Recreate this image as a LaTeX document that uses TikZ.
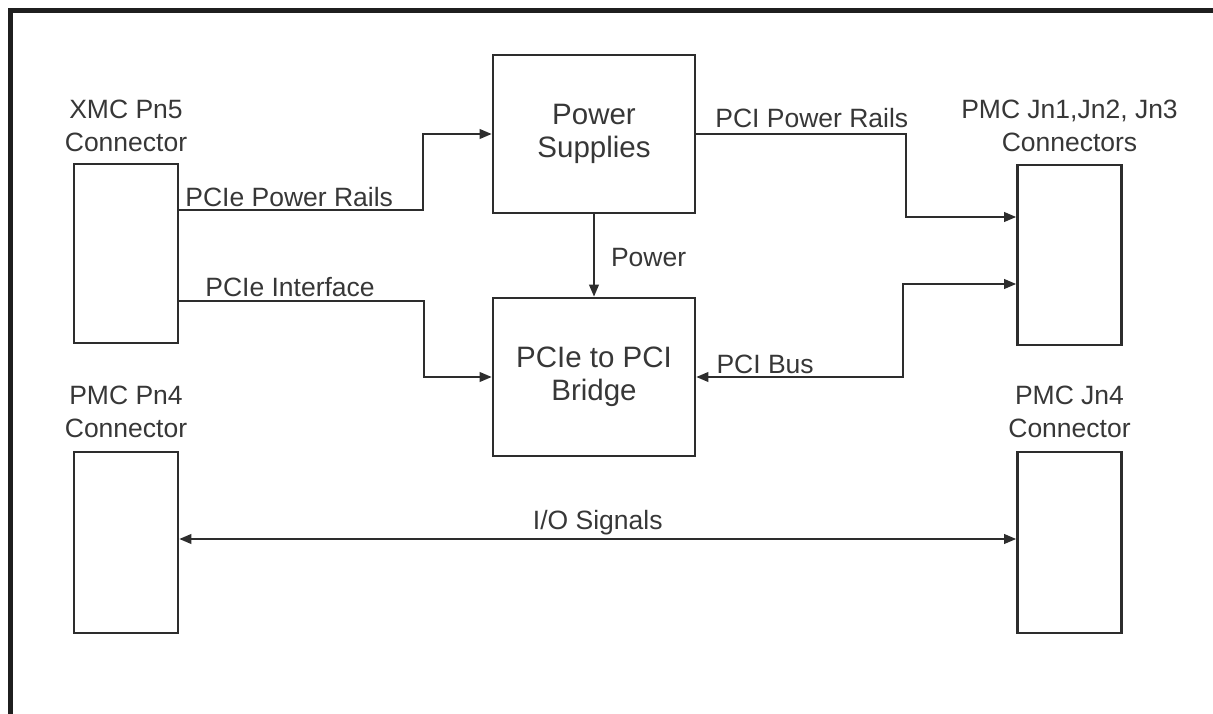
\documentclass[tikz,border=0pt]{standalone}
\usepackage{fontspec}
\setmainfont{Liberation Sans}
\definecolor{diagline}{RGB}{45, 45, 45}
\definecolor{diagtext}{RGB}{55, 55, 55}
\usetikzlibrary{arrows.meta, positioning, calc}

\begin{document}
\begin{tikzpicture}[x=1pt, y=-1pt, >={Triangle[length=12pt, width=9.5pt]},
  blockbox/.style={draw=diagline, line width=2.6pt, minimum width=202pt, minimum height=158pt, align=center, text=diagtext, font=\fontsize{29.5}{33}\selectfont, inner sep=0pt},
  connbox/.style={draw=diagline, line width=2.6pt, minimum width=104pt, inner sep=0pt},
  conntitle/.style={align=center, text=diagtext, font=\fontsize{26.5}{33}\selectfont, inner sep=0pt},
  sig/.style={text=diagtext, font=\fontsize{26.5}{33}\selectfont, inner sep=0pt},
  flow/.style={draw=diagline, line width=2.1pt}]
  \useasboundingbox (0,0) rectangle (1213,714);
  \draw[line width=5pt, color=black!88] (10.5,714) -- (10.5,10.5) -- (1213,10.5);

  \node[blockbox] (psu) at (594,134) {Power\\Supplies};
  \node[blockbox] (bridge) at (594,377) {PCIe to PCI\\Bridge};
  \node[connbox, minimum height=179pt] (xmc) at (126,253.5) {};
  \node[connbox, minimum height=180pt] (jn123) at (1069.5,255) {};
  \node[connbox, minimum height=181pt] (pn4) at (126,542.5) {};
  \node[connbox, minimum height=181pt] (jn4) at (1069.5,542.5) {};

  \node[conntitle, above=11pt of xmc] (xmctitle) {XMC Pn5\\Connector};
  \node[conntitle, above=12pt of jn123] (jn123title) {PMC Jn1,Jn2, Jn3\\Connectors};
  \node[conntitle, above=13pt of pn4] (pn4title) {PMC Pn4\\Connector};
  \node[conntitle, above=13pt of jn4] (jn4title) {PMC Jn4\\Connector};

  \draw[flow, ->] ([yshift=43.5pt]xmc.east) -- ++(244,0) node[sig, pos=0, anchor=base west, xshift=5pt, yshift=3pt] {PCIe Power Rails} |- (psu.west);
  \draw[flow, ->] ([yshift=-47.5pt]xmc.east) -- ++(245,0) node[sig, pos=0, anchor=base west, xshift=25pt, yshift=5pt] {PCIe Interface} |- (bridge.west);
  \draw[flow, ->] (psu) -- (bridge) node[sig, midway, anchor=base west, xshift=16pt, yshift=-10.5pt] {Power};
  \draw[flow, ->] (psu.east) -- ++(210,0) node[sig, pos=0, anchor=base west, xshift=18pt, yshift=6pt] {PCI Power Rails} |- ([yshift=38pt]jn123.west);
  \draw[flow, <->] ([yshift=-29pt]jn123.west) -- ++(-113,0) |- (bridge.east);
  \node[sig, anchor=base west] (pcibus) at ([xshift=20pt, yshift=4pt]bridge.east) {PCI Bus};
  \draw[flow, <->] ([yshift=3.5pt]pn4.east) -- ([yshift=3.5pt]jn4.west) node[sig, midway, anchor=base, yshift=10pt] {I/O Signals};
\end{tikzpicture}
\end{document}
